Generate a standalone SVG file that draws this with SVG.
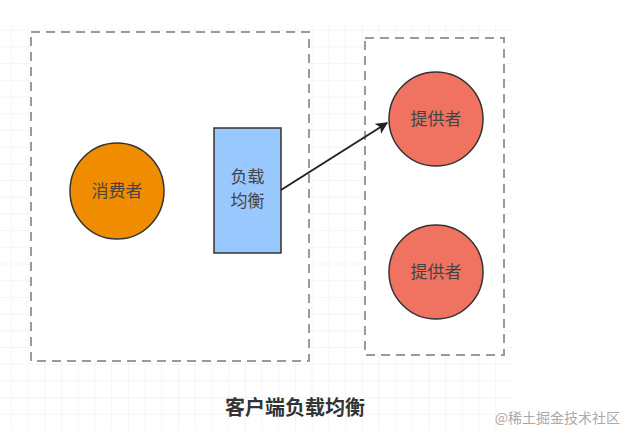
<svg xmlns="http://www.w3.org/2000/svg" width="629" height="438" viewBox="0 0 629 438">
  <defs>
    <pattern id="grid" patternUnits="userSpaceOnUse" x="11" y="13" width="16.7" height="16.7">
      <path d="M 0 0 L 16.7 0 M 0 0 L 0 16.7" fill="none" stroke="#ececec" stroke-width="1"/>
    </pattern>
    <marker id="arrow" viewBox="0 0 10 10" refX="9" refY="5" markerWidth="6" markerHeight="6" orient="auto" markerUnits="strokeWidth">
      <path d="M0,0 L10,5 L0,10 L2.5,5 Z" fill="#222"/>
    </marker>
    <style>
      .box { fill: #ffffff; stroke: #9a9a9a; stroke-width: 2; stroke-dasharray: 9 6; }
      .node { stroke: #333; stroke-width: 1.5; }
      .lbl { font-family: "Noto Sans CJK SC", "Liberation Sans", sans-serif; font-size: 17px; fill: #444; text-anchor: middle; }
    </style>
  </defs>
  <rect width="629" height="438" fill="#ffffff"/>
  <rect x="0" y="24" width="512" height="406" fill="url(#grid)"/>

  <g id="client-group">
    <rect class="box" x="31" y="32" width="278" height="329"/>
  </g>
  <g id="provider-group">
    <rect class="box" x="365" y="38" width="139" height="317"/>
  </g>

  <g id="consumer">
    <ellipse class="node" cx="117" cy="191" rx="47" ry="48" fill="#f08c00"/>
    <text class="lbl" x="117" y="197">消费者</text>
  </g>
  <g id="loadbalancer">
    <rect class="node" x="214" y="128" width="67" height="125" fill="#99c7ff"/>
    <text class="lbl" x="247.5" y="183">负载</text>
    <text class="lbl" x="247.5" y="207">均衡</text>
  </g>
  <g id="provider1">
    <ellipse class="node" cx="436" cy="119" rx="47" ry="47" fill="#f07260"/>
    <text class="lbl" x="436" y="125">提供者</text>
  </g>
  <g id="provider2">
    <ellipse class="node" cx="436" cy="272" rx="47" ry="47" fill="#f07260"/>
    <text class="lbl" x="436" y="278">提供者</text>
  </g>

  <g id="connectors">
    <line x1="281" y1="190" x2="387" y2="123" stroke="#222" stroke-width="2" marker-end="url(#arrow)"/>
  </g>

  <text x="295" y="415" font-family="Noto Sans CJK SC, sans-serif" font-size="20" font-weight="bold" fill="#333" text-anchor="middle">客户端负载均衡</text>
  <text x="620" y="423" font-family="Noto Sans CJK SC, sans-serif" font-size="14" fill="#aaa" text-anchor="end">@稀土掘金技术社区</text>
</svg>
